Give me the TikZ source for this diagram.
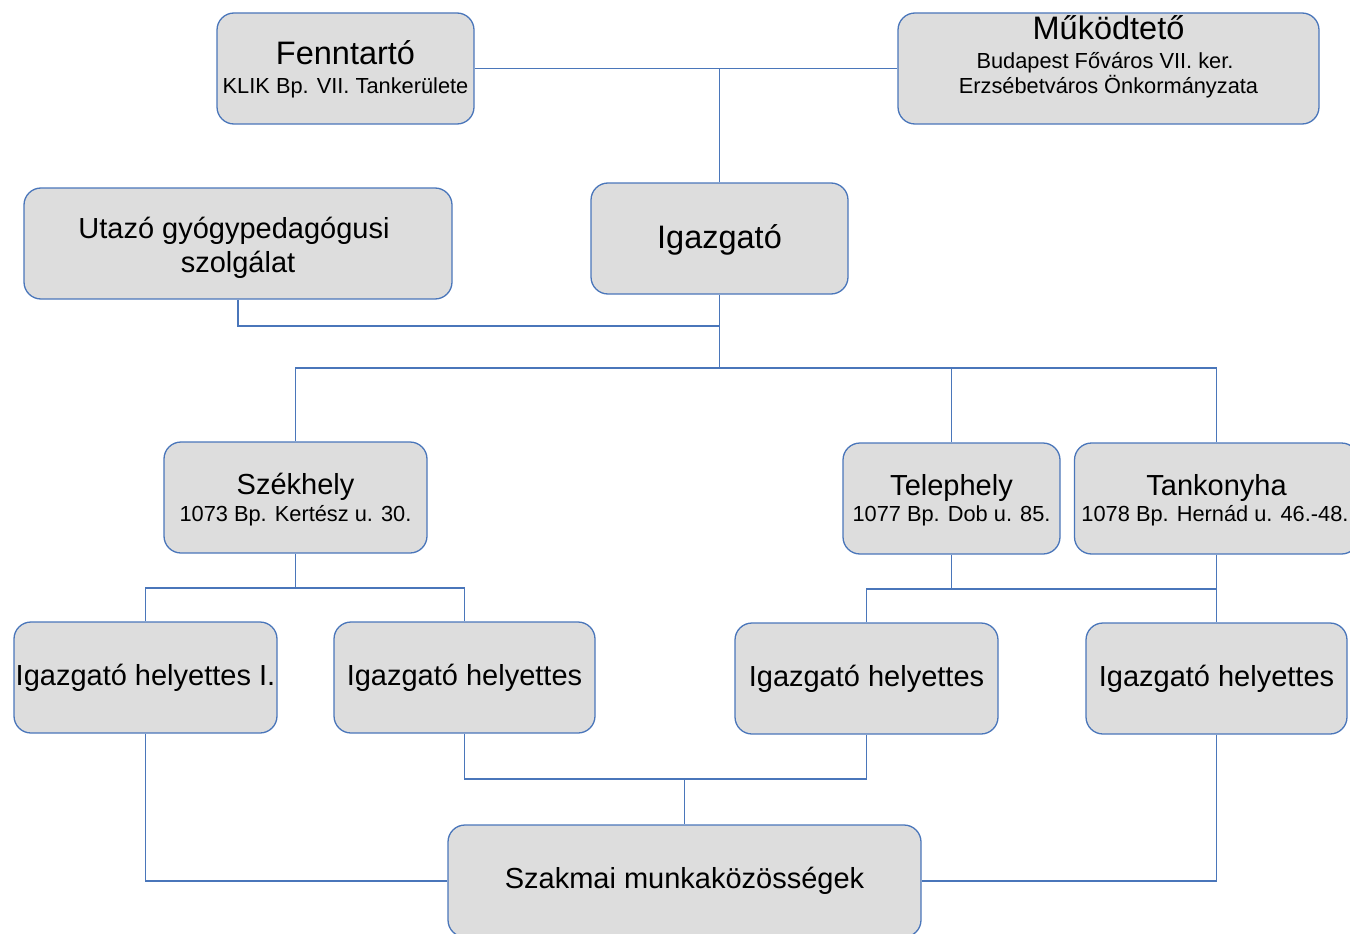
\documentclass[tikz,border=0pt]{standalone}
\usepackage{fontspec}
\setmainfont{Liberation Sans}
\definecolor{lineblue}{HTML}{4A76BA}
\definecolor{boxgray}{HTML}{DDDDDD}
\newcommand\ttl{\fontsize{29}{33}\selectfont}
\newcommand\ttlb{\fontsize{32.5}{36}\selectfont}
\newcommand\subt{\fontsize{21.8}{26}\selectfont}
\begin{document}
\begin{tikzpicture}[x=1pt,y=-1pt,
  orgbox/.style={draw=lineblue,fill=boxgray,line width=1.3pt,rounded corners=17pt,
    minimum width=#1,minimum height=111pt,inner sep=0pt,align=center,text=black},
  txt/.style={anchor=base,inner sep=0pt,text=black},
  conn/.style={draw=lineblue,line width=1.3pt}]
\useasboundingbox (0,0) rectangle (1350,934);
\clip (0,0) rectangle (1350,934);
% boxes
\node[orgbox=257pt] (fenn) at (345.5,68.5) {};
\node[txt,font=\ttlb] (fennA) at (345.5,65) {Fenntartó};
\node[txt,font=\subt] (fennB) at (345.5,94) {KLIK Bp. VII. Tankerülete};
\node[orgbox=421pt] (mukod) at (1108.5,68.5) {};
\node[txt,font=\ttlb] (mukodA) at (1108.5,40) {Működtető};
\node[txt,font=\subt] (mukodB) at (1105,69) {Budapest Főváros VII. ker.};
\node[txt,font=\subt] (mukodC) at (1108.5,94) {Erzsébetváros Önkormányzata};
\node[orgbox=428pt] (utazo) at (238,243.5) {};
\node[txt,font=\ttl] (utazoA) at (234,238) {Utazó gyógypedagógusi};
\node[txt,font=\ttl] (utazoB) at (238,272) {szolgálat};
\node[orgbox=257pt] (igaz) at (719.5,238.5) {};
\node[txt,font=\ttlb] (igazA) at (719.5,248) {Igazgató};
\node[orgbox=263pt] (szek) at (295.5,497.5) {};
\node[txt,font=\ttl] (szekA) at (295.5,494) {Székhely};
\node[txt,font=\subt] (szekB) at (295.5,521) {1073 Bp. Kertész u. 30.};
\node[orgbox=217pt] (tele) at (951.5,498.5) {};
\node[txt,font=\ttl] (teleA) at (951.5,495) {Telephely};
\node[txt,font=\subt] (teleB) at (951.5,521.5) {1077 Bp. Dob u. 85.};
\node[orgbox=284pt] (tank) at (1216.5,498.5) {};
\node[txt,font=\ttl] (tankA) at (1216.5,495) {Tankonyha};
\node[txt,font=\subt] (tankB) at (1215,521.5) {1078 Bp. Hernád u. 46.-48.};
\node[orgbox=263pt,font=\ttl] (ih1) at (145.5,677.5) {Igazgató helyettes I.};
\node[orgbox=261pt,font=\ttl] (ih2) at (464.5,677.5) {Igazgató helyettes};
\node[orgbox=263pt,font=\ttl] (ih3) at (866.5,678.5) {Igazgató helyettes};
\node[orgbox=261pt,font=\ttl] (ih4) at (1216.5,678.5) {Igazgató helyettes};
\node[orgbox=473pt,minimum height=112pt,font=\ttl] (szak) at (684.5,881) {Szakmai munkaközösségek};
% junctions
\coordinate (ju) at (719.5,326);
\coordinate (jb) at (719.5,368);
\coordinate (js) at (295.5,588);
\coordinate (jt) at (951.5,589);
\coordinate (jm) at (684.5,779);
% connectors
\draw[conn] (fenn.east) -- (mukod.west);
\draw[conn] (igaz.north) -- (igaz.north |- fenn.east);
\draw[conn] (utazo.south) |- (ju);
\draw[conn] (igaz.south) -- (jb);
\draw[conn] (szek.north) |- (jb);
\draw[conn] (tank.north) |- (jb);
\draw[conn] (tele.north) -- (tele.north |- jb);
\draw[conn] (szek.south) -- (js);
\draw[conn] (ih1.north) |- (js) -| (ih2.north);
\draw[conn] (tele.south) -- (jt);
\draw[conn] (tank.south) -- (ih4.north);
\draw[conn] (ih3.north) |- (ih4.north |- jt);
\draw[conn] (ih2.south) |- (jm) -| (ih3.south);
\draw[conn] (jm) -- (szak.north);
\draw[conn] (ih1.south) |- (szak.west);
\draw[conn] (ih4.south) |- (szak.east);
\end{tikzpicture}
\end{document}
